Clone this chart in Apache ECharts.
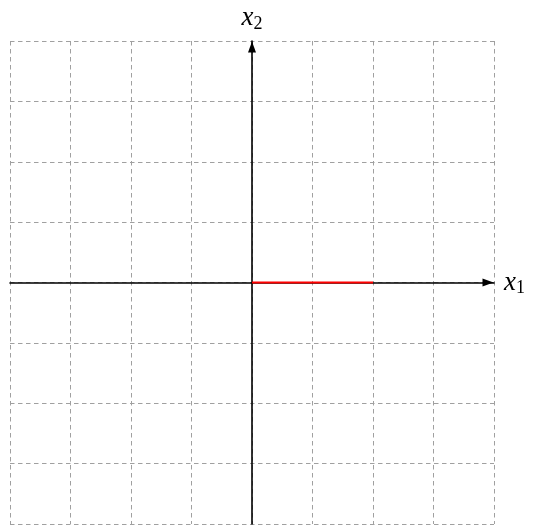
<!DOCTYPE html>
<html><head><meta charset="utf-8">
<script src="https://cdn.jsdelivr.net/npm/echarts@6/dist/echarts.min.js"></script>
<style>html,body{margin:0;padding:0;background:#fff}#c{width:537px;height:525px}</style>
</head><body><div id="c"></div>
<script>
var xRange = [-4, 4];
var yRange = [-4, 4];
var segmentX = [0, 2];
var segmentY = [0, 0];
var xName = '{i|x}{s|1}';
var yName = '{i|x}{s|2}';

var chart = echarts.init(document.getElementById('c'), null, {renderer: 'canvas'});
var rich = {
  i: {fontFamily: 'Liberation Serif', fontStyle: 'italic', fontSize: 27, color: '#000'},
  s: {fontFamily: 'Liberation Serif', fontStyle: 'normal', fontSize: 18, color: '#000', verticalAlign: 'bottom', padding: [12, 0, 0, 0]}
};
var splitLine = {show: true, showMinLine: true, showMaxLine: true, lineStyle: {color: '#a0a0a0', type: [4.5, 3.5], width: 1}};
var axisLine = {show: true, onZero: true, symbol: ['none', 'triangle'], symbolSize: [8, 11], symbolOffset: [0, -6], lineStyle: {color: '#000', width: 1.6}};
chart.setOption({
  animation: false,
  grid: {left: 10, right: 43, top: 41, bottom: 1, containLabel: false},
  xAxis: {
    type: 'value', min: xRange[0], max: xRange[1], interval: 1,
    axisLabel: {show: false}, axisTick: {show: false},
    splitLine: splitLine, axisLine: axisLine,
    name: xName, nameLocation: 'end', nameGap: 10,
    nameTextStyle: {fontFamily: 'Liberation Serif', rich: rich, verticalAlign: 'middle'}
  },
  yAxis: {
    type: 'value', min: yRange[0], max: yRange[1], interval: 1,
    axisLabel: {show: false}, axisTick: {show: false},
    splitLine: splitLine, axisLine: axisLine,
    name: yName, nameLocation: 'end', nameGap: 8,
    nameTextStyle: {fontFamily: 'Liberation Serif', rich: rich, align: 'center'}
  },
  series: [{
    type: 'line', symbol: 'none',
    data: segmentX.map(function (x, k) { return [x, segmentY[k]]; }),
    lineStyle: {color: '#ff0000', width: 2.2}, z: 5
  }]
});
</script></body></html>
